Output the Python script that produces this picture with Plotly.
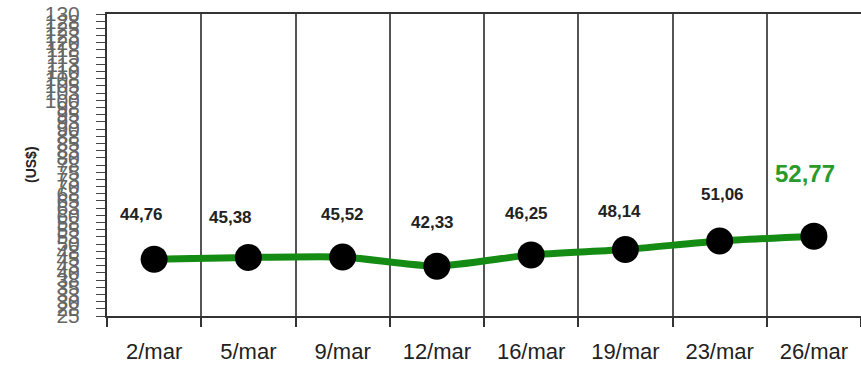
import plotly.graph_objects as go

categories = ["2/mar", "5/mar", "9/mar", "12/mar", "16/mar", "19/mar", "23/mar", "26/mar"]
values = [44.76, 45.38, 45.52, 42.33, 46.25, 48.14, 51.06, 52.77]
value_labels = ["44,76", "45,38", "45,52", "42,33", "46,25", "48,14", "51,06", "52,77"]
y_min, y_max, y_step = 25, 130, 2.5
y_title = "(US$)"

# label offsets (style)
label_dx = [-13, -18, 0, -4, -5, -6, 3, -9]
label_dy = [45, 40, 42, 44, 41, 38, 47, 63]

xs = list(range(len(categories)))
yticks = [y_min + i * y_step for i in range(int((y_max - y_min) / y_step) + 1)]
ytick_text = [str(int(v + 0.5)) for v in yticks]

FONT = "Liberation Sans, Arial, sans-serif"

fig = go.Figure()
fig.add_trace(go.Scatter(
    x=xs, y=values, mode="lines+markers",
    line=dict(color="#148c14", width=7, shape="spline", smoothing=0.6),
    marker=dict(color="black", size=27),
    hoverinfo="skip", showlegend=False,
))

for i, (x, v, t) in enumerate(zip(xs, values, value_labels)):
    last = i == len(values) - 1
    fig.add_annotation(
        x=x, y=v, xref="x", yref="y", text=t, showarrow=False,
        xshift=label_dx[i], yshift=label_dy[i],
        font=dict(family=FONT, size=24 if last else 17,
                  color="#2a9a2a" if last else "#222222",
                  weight="bold"),
    )

fig.add_annotation(
    x=(21 - 107) / (861 - 107), y=0.5, xref="paper", yref="paper", text=y_title,
    showarrow=False, textangle=-90,
    font=dict(family=FONT, size=14, color="#222", weight="bold"),
)

fig.update_layout(
    width=861, height=365,
    margin=dict(l=107, r=0, t=14, b=49),
    plot_bgcolor="white", paper_bgcolor="white",
    separators=",.",
    xaxis=dict(
        range=[-0.5, len(categories) - 0.5], automargin=False,
        tickvals=xs, ticktext=categories,
        showgrid=False, ticks="", zeroline=False,
        showline=True, linecolor="#333", linewidth=2, mirror=True,
        tickfont=dict(family=FONT, size=22, color="#222", weight="normal"),
        ticklabelstandoff=15,
        minor=dict(tick0=0.5, dtick=1, showgrid=True, gridcolor="#555", gridwidth=1.5,
                   ticks="outside", ticklen=9, tickcolor="#333", tickwidth=1.5),
    ),
    yaxis=dict(
        range=[y_min, y_max], tickvals=yticks, ticktext=ytick_text, automargin=False,
        showgrid=False, zeroline=False,
        showline=True, linecolor="#333", linewidth=2,
        ticks="outside", ticklen=9, tickcolor="#444", tickwidth=1,
        tickfont=dict(family=FONT, size=21, color="#666", weight="normal"),
        ticklabelstandoff=12,
    ),
)

fig.write_html("out.html")
